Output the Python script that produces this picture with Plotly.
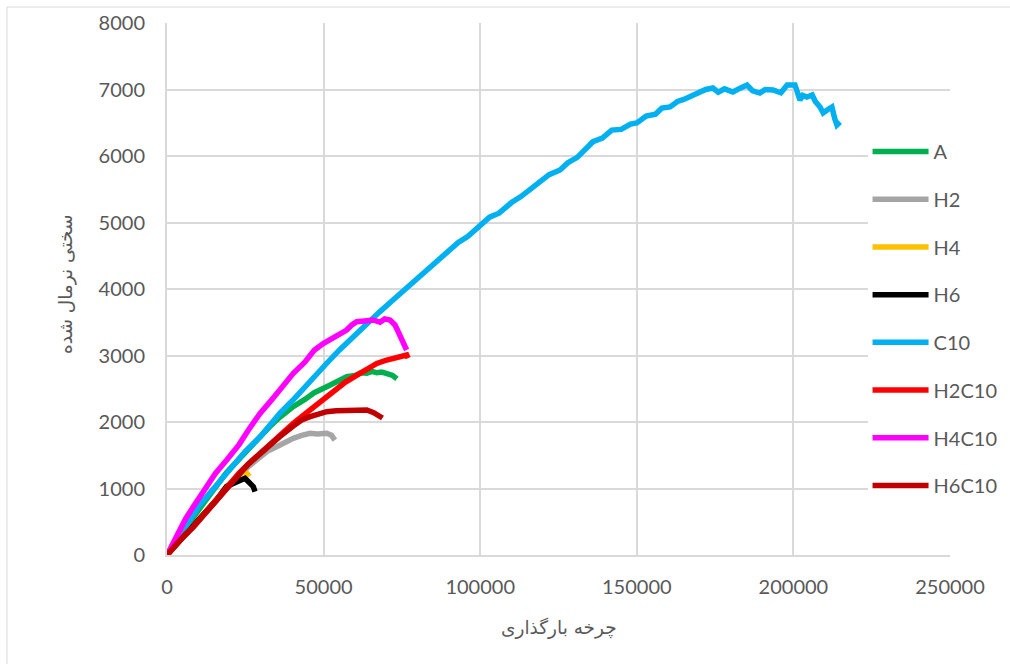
import plotly.graph_objects as go

# ---- data (cycles, normalized stiffness) ----
names = ["A", "H2", "H4", "H6", "C10", "H2C10", "H4C10", "H6C10"]
colors = ["#00b050", "#a5a5a5", "#ffc000", "#000000", "#00b0f0", "#ff0000", "#ff00ff", "#c00000"]

a_x = [0, 4000, 8000, 12000, 16000, 19000, 24000, 29700, 33000, 36000, 40300, 44000, 47000,
       51000, 54000, 57400, 60000, 62000, 63800, 65500, 67000, 68500, 70000, 72000, 73400]
a_y = [0, 280, 540, 800, 1040, 1240, 1490, 1790, 1940, 2070, 2230, 2340, 2440,
       2531, 2610, 2681, 2700, 2740, 2732, 2760, 2740, 2750, 2730, 2700, 2647]

h2_x = [0, 4000, 8400, 12000, 16000, 19000, 23000, 26000, 28600, 32000, 35000, 38000, 40300,
        43000, 45700, 48000, 50000, 51000, 52500, 53600]
h2_y = [0, 210, 420, 610, 830, 1010, 1200, 1330, 1429, 1560, 1629, 1710, 1755,
        1800, 1830, 1820, 1840, 1830, 1800, 1729]

h4_x = [0, 4000, 8400, 12000, 16000, 19000, 22000, 24000, 25500, 26300]
h4_y = [0, 215, 430, 620, 840, 1030, 1170, 1240, 1229, 1180]

h6_x = [0, 4000, 8400, 12000, 16000, 19000, 22250, 24000, 24900, 25450, 26500, 27560, 28100]
h6_y = [0, 215, 430, 620, 840, 1030, 1110, 1145, 1153, 1128, 1080, 1028, 952]

c10_x = [0, 2000, 4000, 6000, 8300, 10000, 12000, 15000, 19160, 22000, 25000, 29700, 33000,
         36000, 40230, 44000, 48000, 51090, 55000, 58000, 61620, 65000, 68000, 72160, 75000,
         78000, 81000, 84000, 87170, 90000, 93000, 96000, 100000, 103000, 106000, 110000,
         113000, 116000, 119000, 122000, 125500, 128000, 131000, 134000, 136000, 139000,
         142000, 145000, 148000, 150000, 153000, 156000, 158000, 160600, 163000, 165000,
         168000, 170000, 172000, 174300, 176000, 178000, 180700, 183000, 185200, 187000,
         189300, 191000, 193500, 196000, 198000, 200500, 202100, 203000, 204300, 206000,
         207000, 208500, 209500, 211000, 212300, 213200, 213900, 214900]
c10_y = [0, 150, 290, 430, 630, 720, 840, 1010, 1233, 1400, 1560, 1775, 1960,
         2130, 2330, 2530, 2730, 2887, 3080, 3220, 3383, 3530, 3660, 3835, 3950,
         4080, 4200, 4330, 4466, 4560, 4700, 4790, 4962, 5080, 5140, 5300,
         5390, 5500, 5590, 5720, 5789, 5900, 5980, 6120, 6215, 6270,
         6390, 6400, 6480, 6496, 6600, 6630, 6720, 6737, 6820, 6850,
         6917, 6950, 7000, 7022, 6960, 7010, 6962, 7020, 7068, 6980,
         6947, 7000, 6992, 6950, 7068, 7068, 6842, 6910, 6887, 6917,
         6820, 6737, 6647, 6700, 6737, 6560, 6466, 6511]

h2c10_x = [0, 2000, 4000, 6000, 8400, 12000, 15000, 19060, 23000, 26000, 29700, 33000, 36000,
           40330, 44000, 47000, 51000, 54000, 57000, 61600, 64000, 67000, 70150, 72000,
           74000, 76530, 77000]
h2c10_y = [0, 110, 215, 320, 426, 620, 780, 1028, 1230, 1370, 1529, 1680, 1800,
           1980, 2120, 2230, 2381, 2490, 2600, 2732, 2800, 2880, 2932, 2960,
           2980, 3008, 2960]

h4c10_x = [0, 2000, 4000, 6000, 8400, 12000, 15500, 19060, 23000, 26000, 29700, 33000, 36000,
           40330, 44000, 47000, 50000, 53000, 55000, 57370, 59000, 60570, 63000, 65870,
           68000, 69500, 71200, 72200, 72800, 73600, 74400, 75300, 76500]
h4c10_y = [0, 190, 370, 550, 726, 990, 1230, 1429, 1660, 1880, 2130, 2310, 2480,
           2732, 2900, 3080, 3183, 3260, 3320, 3383, 3460, 3508, 3520, 3534,
           3500, 3550, 3534, 3500, 3459, 3380, 3283, 3200, 3083]

h6c10_x = [0, 4000, 8400, 12000, 16000, 19000, 23000, 26000, 29700, 33000, 36000, 40300,
           43000, 45700, 48000, 51000, 54000, 57400, 60000, 63800, 66000, 68000, 68800]
h6c10_y = [0, 215, 420, 610, 830, 1010, 1220, 1370, 1520, 1660, 1780, 1940,
           2030, 2080, 2120, 2155, 2170, 2180, 2170, 2180, 2140, 2080, 2060]

series_x = [a_x, h2_x, h4_x, h6_x, c10_x, h2c10_x, h4c10_x, h6c10_x]
series_y = [a_y, h2_y, h4_y, h6_y, c10_y, h2c10_y, h4c10_y, h6c10_y]

x_title = "چرخه بارگذاری"
y_title = "سختی نرمال شده"

fig = go.Figure()
for n, c, xs, ys in zip(names, colors, series_x, series_y):
    fig.add_trace(go.Scatter(x=xs, y=ys, mode="lines", name=n, legendgroup=n,
                             line=dict(color=c, width=5.5)))

grid = "#d9d9d9"
tick_font = dict(family="Lato, Open Sans, sans-serif", size=20, color="#595959")

fig.update_layout(
    width=1010, height=664,
    margin=dict(l=167, r=60, t=23, b=109, autoexpand=False),
    paper_bgcolor="white", plot_bgcolor="white",
    showlegend=True,
    legend=dict(x=0.8947, xanchor="left", y=0.795, yanchor="top",
                bgcolor="white", font=dict(family="Lato, Open Sans, sans-serif", size=20, color="#595959"),
                itemwidth=56, tracegroupgap=18.7, traceorder="grouped"),
    xaxis=dict(range=[0, 250000], dtick=50000, showgrid=True, gridcolor=grid, gridwidth=2,
               showline=True, linecolor=grid, linewidth=2, zeroline=False,
               tickfont=tick_font, ticklabelstandoff=13, tickformat="d"),
    yaxis=dict(range=[0, 8000], dtick=1000, showgrid=True, gridcolor=grid, gridwidth=2,
               showline=True, linecolor=grid, linewidth=2, zeroline=False,
               tickfont=tick_font, ticklabelstandoff=16, tickformat="d"),
    annotations=[
        dict(text=x_title, xref="paper", yref="paper", x=0.5, y=(555 - 628) / 532,
             xanchor="center", yanchor="middle", showarrow=False,
             font=dict(family="DejaVu Sans", size=18.5, color="#595959")),
        dict(text=y_title, xref="paper", yref="paper", x=(66 - 167) / 783, y=(555 - 285) / 532,
             xanchor="center", yanchor="middle", showarrow=False, textangle=-90,
             font=dict(family="DejaVu Sans", size=18.5, color="#595959")),
    ],
    shapes=[dict(type="rect", xref="paper", yref="paper",
                 x0=(7 - 167) / 783, x1=(1015 - 167) / 783,
                 y0=(555 - 670) / 532, y1=(555 - 7) / 532,
                 line=dict(color=grid, width=1), layer="below")],
)

fig.write_html("out.html", config={"displayModeBar": False},
               post_script="document.body.style.margin='0';")
